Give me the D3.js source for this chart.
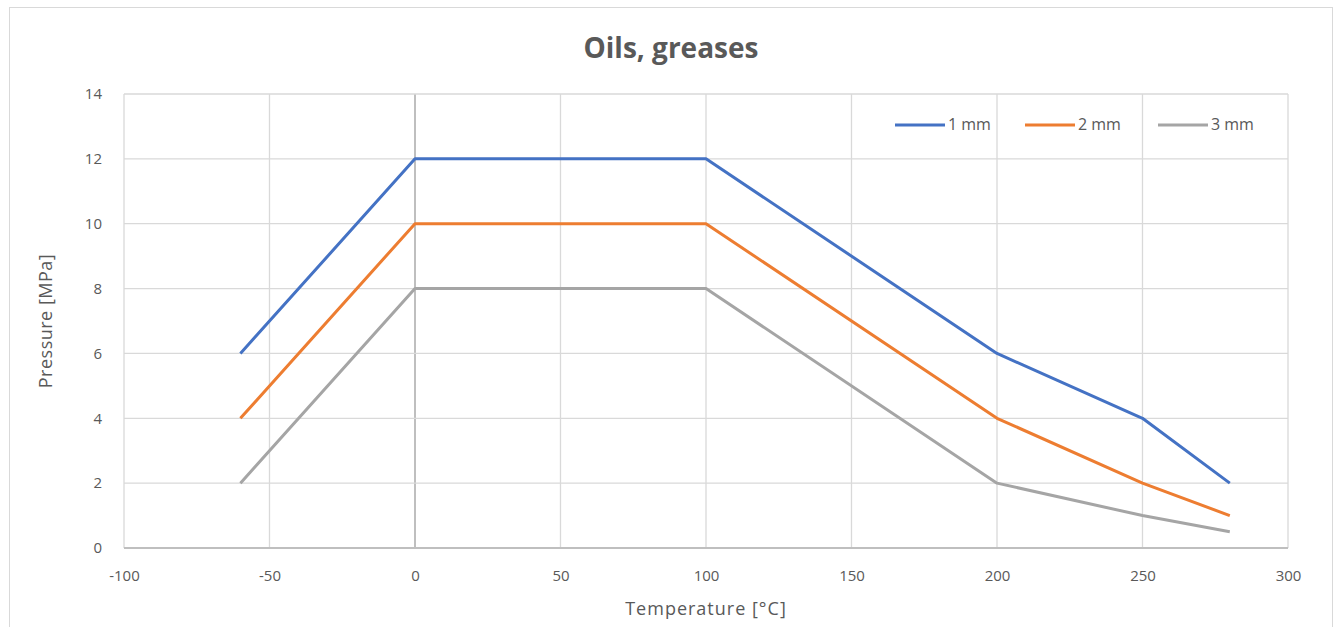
<!DOCTYPE html>
<html>
<head>
<meta charset="utf-8">
<script src="https://cdn.jsdelivr.net/npm/d3@7"></script>
<style>
  body { margin: 0; background: #fff; }
  text { font-family: "Open Sans", "Noto Sans", sans-serif; fill: #595959; }
</style>
</head>
<body>
<div id="chart"></div>
<script>
// chart data
const seriesNames = ["1 mm", "2 mm", "3 mm"];
const seriesColors = ["#4472C4", "#ED7D31", "#A5A5A5"];
const temps = [-60, 0, 100, 200, 250, 280];
const pressure1mm = [6, 12, 12, 6, 4, 2];
const pressure2mm = [4, 10, 10, 4, 2, 1];
const pressure3mm = [2, 8, 8, 2, 1, 0.5];
const xTicks = [-100, -50, 0, 50, 100, 150, 200, 250, 300];
const yTicks = [0, 2, 4, 6, 8, 10, 12, 14];

const width = 1336;
const height = 627;
const margin = { left: 124, right: 48, top: 94, bottom: 79 };

const svg = d3.select("#chart")
  .append("svg")
  .attr("width", width)
  .attr("height", height);

// outer chart border
svg.append("rect")
  .attr("x", 9.5)
  .attr("y", 7.5)
  .attr("width", 1323)
  .attr("height", 640)
  .attr("fill", "none")
  .attr("stroke", "#d9d9d9");

const x = d3.scaleLinear().domain([-100, 300]).range([margin.left, width - margin.right]);
const y = d3.scaleLinear().domain([0, 14]).range([height - margin.bottom, margin.top]);

// gridlines
svg.append("g")
  .selectAll("line.vgrid")
  .data(xTicks)
  .enter()
  .append("line")
  .attr("x1", d => x(d))
  .attr("x2", d => x(d))
  .attr("y1", y(0))
  .attr("y2", y(14))
  .attr("stroke", d => d === 0 ? "#bfbfbf" : "#d9d9d9")
  .attr("stroke-width", d => d === 0 ? 2 : 1.3);

svg.append("g")
  .selectAll("line.hgrid")
  .data(yTicks)
  .enter()
  .append("line")
  .attr("x1", x(-100))
  .attr("x2", x(300))
  .attr("y1", d => y(d))
  .attr("y2", d => y(d))
  .attr("stroke", d => d === 0 ? "#bfbfbf" : "#d9d9d9")
  .attr("stroke-width", d => d === 0 ? 2 : 1.3);

// axes (labels only)
const xAxis = svg.append("g")
  .attr("transform", `translate(0,${y(0)})`)
  .call(d3.axisBottom(x).tickValues(xTicks).tickFormat(d => String(d)).tickSize(0).tickPadding(22));
const yAxis = svg.append("g")
  .attr("transform", `translate(${x(-100)},0)`)
  .call(d3.axisLeft(y).tickValues(yTicks).tickFormat(d => String(d)).tickSize(0).tickPadding(22));
[xAxis, yAxis].forEach(a => {
  a.select(".domain").remove();
  a.selectAll("text")
    .attr("font-size", "15px")
    .attr("font-family", "'Open Sans', sans-serif")
    .attr("fill", "#666666");
});

// series lines
const allSeries = [pressure1mm, pressure2mm, pressure3mm];
const line = d3.line()
  .x((d, i) => x(temps[i]))
  .y(d => y(d));

svg.append("g")
  .selectAll("path")
  .data(allSeries)
  .enter()
  .append("path")
  .attr("d", d => line(d))
  .attr("fill", "none")
  .attr("stroke", (d, i) => seriesColors[i])
  .attr("stroke-width", 3)
  .attr("stroke-linejoin", "round");

// title
svg.append("text")
  .attr("x", 671)
  .attr("y", 58)
  .attr("text-anchor", "middle")
  .attr("font-size", "28px")
  .attr("font-weight", "bold")
  .text("Oils, greases");

// axis titles
svg.append("text")
  .attr("x", (x(-100) + x(300)) / 2)
  .attr("y", 615)
  .attr("text-anchor", "middle")
  .attr("font-size", "18px")
  .attr("letter-spacing", "1px")
  .attr("fill", "#666666")
  .text("Temperature [°C]");

svg.append("text")
  .attr("transform", `translate(52,${(y(0) + y(14)) / 2}) rotate(-90)`)
  .attr("text-anchor", "middle")
  .attr("font-size", "18px")
  .attr("letter-spacing", "0.5px")
  .attr("fill", "#666666")
  .text("Pressure [MPa]");

// legend
const legendX = [895, 1025, 1158];
const legend = svg.append("g")
  .selectAll("g")
  .data(seriesNames)
  .enter()
  .append("g")
  .attr("transform", (d, i) => `translate(${legendX[i]},125)`);

legend.append("line")
  .attr("x1", 0)
  .attr("x2", 50)
  .attr("stroke", (d, i) => seriesColors[i])
  .attr("stroke-width", 3);

legend.append("text")
  .attr("x", 53)
  .attr("y", 5)
  .attr("font-size", "16px")
  .attr("fill", "#666666")
  .text(d => d);
</script>
</body>
</html>
